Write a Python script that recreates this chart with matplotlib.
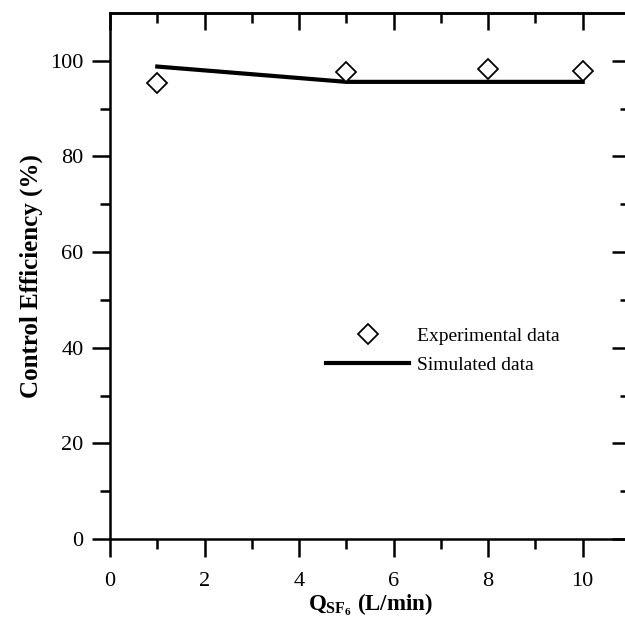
import matplotlib.pyplot as plt
import numpy as np

plt.rcParams['font.family'] = ['Liberation Serif', 'DejaVu Serif']
plt.rcParams['mathtext.fontset'] = 'custom'
plt.rcParams['mathtext.rm'] = 'Liberation Serif'
plt.rcParams['mathtext.bf'] = 'Liberation Serif:bold'

# dane
q_exp = [1, 5, 8, 10]
eff_exp = [95.4, 97.7, 98.3, 97.9]
q_sim = [1, 5, 8, 10]
eff_sim = [98.8, 95.6, 95.6, 95.6]

fig = plt.figure(figsize=(6.25, 6.19), dpi=100)
# prawa krawedz osi wychodzi poza obrazek (jak w oryginale)
ax = fig.add_axes([110 / 625, 80 / 619, 520 / 625, 526 / 619])

ax.plot(q_sim, eff_sim, color='black', lw=3, label='Simulated data', zorder=2)
ax.plot(q_exp, eff_exp, linestyle='none', marker='D', markersize=10,
        markerfacecolor='white', markeredgecolor='black', markeredgewidth=1.3,
        label='Experimental data', zorder=3)

ax.set_xlim(0, 11)
ax.set_ylim(0, 110)
ax.set_xticks(np.arange(0, 11, 2))
ax.set_xticks(np.arange(1, 11, 2), minor=True)
ax.set_yticks(np.arange(0, 101, 20))
ax.set_yticks(np.arange(10, 110, 20), minor=True)

for s in ax.spines.values():
    s.set_linewidth(1.8)

ax.tick_params(axis='both', which='major', labelsize=16, width=1.8, length=13)
ax.tick_params(axis='both', which='minor', width=1.8, length=7)
ax.tick_params(axis='x', which='major', pad=11)
ax.tick_params(axis='y', which='major', pad=6)
ax.tick_params(axis='x', which='both', direction='out', top=False)
ax.tick_params(axis='y', which='both', direction='out', right=False)

# gorne i prawe tiki do srodka
top = ax.secondary_xaxis('top')
top.set_xticks(np.arange(0, 11, 2))
top.set_xticks(np.arange(1, 11, 2), minor=True)
top.tick_params(which='major', direction='in', length=12, width=1.8, labeltop=False)
top.tick_params(which='minor', direction='in', length=7, width=1.8)
top.spines['top'].set_linewidth(1.8)

right = ax.secondary_yaxis('right')
right.set_yticks(np.arange(0, 101, 20))
right.set_yticks(np.arange(10, 110, 20), minor=True)
right.tick_params(which='major', direction='in', length=13, width=1.8, labelright=False)
right.tick_params(which='minor', direction='in', length=7, width=1.8)
right.spines['right'].set_linewidth(1.8)

ax.set_ylabel('Control Efficiency (%)', fontsize=18, fontweight='bold', labelpad=5)
ax.set_xlabel(r'$\mathbf{Q_{SF_6}}$ (L/min)', fontsize=16.5, fontweight='bold', labelpad=0)

h, l = ax.get_legend_handles_labels()
ax.legend(h[::-1], l[::-1], loc='center', bbox_to_anchor=(0.64, 0.358),
          frameon=False, fontsize=14, handlelength=4.3, handletextpad=0.4,
          labelspacing=0.6)

fig.savefig('out.png', dpi=100)
